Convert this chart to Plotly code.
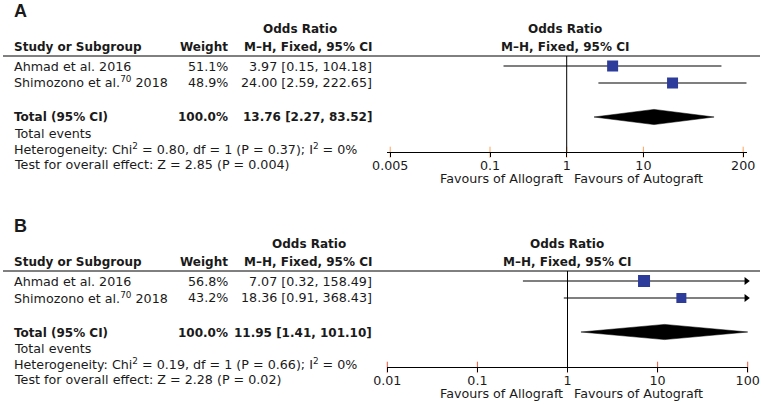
import plotly.graph_objects as go

# ---------------- data ----------------
studies = ["Ahmad et al. 2016", "Shimozono et al.<sup>70</sup> 2018"]

A_weight = [51.1, 48.9]
A_or = [3.97, 24.00]
A_lo = [0.15, 2.59]
A_hi = [104.18, 222.65]
A_total = [13.76, 2.27, 83.52]
A_het = "Heterogeneity: Chi<sup>2</sup> = 0.80, df = 1 (P = 0.37); I<sup>2</sup> = 0%"
A_test = "Test for overall effect: Z = 2.85 (P = 0.004)"
A_ticks = [0.005, 0.1, 1, 10, 200]
A_ticklabels = ["0.005", "0.1", "1", "10", "200"]

B_weight = [56.8, 43.2]
B_or = [7.07, 18.36]
B_lo = [0.32, 0.91]
B_hi = [158.49, 368.43]
B_total = [11.95, 1.41, 101.10]
B_het = "Heterogeneity: Chi<sup>2</sup> = 0.19, df = 1 (P = 0.66); I<sup>2</sup> = 0%"
B_test = "Test for overall effect: Z = 2.28 (P = 0.02)"
B_ticks = [0.01, 0.1, 1, 10, 100]
B_ticklabels = ["0.01", "0.1", "1", "10", "100"]

rows = [1, 2]
total_row = 4

# ---------------- layout helpers ----------------
W, H = 762, 404
def X(px): return px / W
def Y(py): return 1 - py / H

FONT = "DejaVu Sans"
TXT = "#1a1a1a"
BLUE = "#2d3c9b"
FS = 12.7
FSB = 12.0

fig = go.Figure()
annotations = []
shapes = []

def text(x, y, s, anchor="left", bold=False, size=None, family=FONT):
    if size is None:
        size = FSB if bold else FS
    if bold:
        s = "<b>" + s + "</b>"
    annotations.append(dict(x=X(x), y=Y(y), xref="paper", yref="paper", text=s,
                            showarrow=False, xanchor=anchor, yanchor="middle",
                            borderpad=0,
                            font=dict(family=family, size=size, color=TXT)))

def fmt_ci(o, l, h):
    return f"{o:.2f} [{l:.2f}, {h:.2f}]"

panels = [
    dict(letter="A", dy=0, weight=A_weight, orr=A_or, lo=A_lo, hi=A_hi, total=A_total,
         het=A_het, test=A_test, ticks=A_ticks, ticklabels=A_ticklabels,
         xdom=(386.7, 746.7), xrange=(-2.347, 2.347), or_hdr_x=300, right_hdr_x=565,
         xa="x", ya="y"),
    dict(letter="B", dy=215, weight=B_weight, orr=B_or, lo=B_lo, hi=B_hi, total=B_total,
         het=B_het, test=B_test, ticks=B_ticks, ticklabels=B_ticklabels,
         xdom=(387.3, 747.7), xrange=(-2.0, 2.0), or_hdr_x=309, right_hdr_x=566.7,
         xa="x2", ya="y2"),
]

layout_axes = {}
for i, p in enumerate(panels):
    dy = p["dy"]
    # ---- left table ----
    text(13, 11 + dy, p["letter"], bold=True, size=18, family="Liberation Sans")
    text(p["or_hdr_x"], 29 + dy, "Odds Ratio", anchor="center", bold=True)
    text(13, 46.5 + dy, "Study or Subgroup", bold=True)
    text(229, 46.5 + dy, "Weight", anchor="right", bold=True)
    text(373, 46.5 + dy, "M–H, Fixed, 95% CI", anchor="right", bold=True)
    row_y = [66 + dy, 82.5 + dy]
    for s, w, o, l, h, yy in zip(studies, p["weight"], p["orr"], p["lo"], p["hi"], row_y):
        text(13, yy, s)
        text(229, yy, f"{w:.1f}%", anchor="right")
        text(373, yy, fmt_ci(o, l, h), anchor="right")
    text(13, 117.5 + dy, "Total (95% CI)", bold=True)
    text(229, 117.5 + dy, f"{sum(p['weight']):.1f}%", anchor="right", bold=True)
    text(373, 117.5 + dy, fmt_ci(*p["total"]), anchor="right", bold=True)
    text(13, 133 + dy, "Total events")
    text(13, 148.5 + dy, p["het"])
    text(13, 164 + dy, p["test"])

    # ---- right headers ----
    text(p["right_hdr_x"], 29 + dy, "Odds Ratio", anchor="center", bold=True)
    text(p["right_hdr_x"], 46.5 + dy, "M–H, Fixed, 95% CI", anchor="center", bold=True)
    text(564, 178.5 + dy, "Favours of Allograft", anchor="right")
    text(573, 178.5 + dy, "Favours of Autograft", anchor="left")

    # header rule
    shapes.append(dict(type="line", xref="paper", yref="paper", x0=X(3), x1=X(760),
                       y0=Y(56 + dy), y1=Y(56 + dy), line=dict(color="black", width=1)))

    # ---- forest plot ----
    top_px, bot_px = 56 + dy, 152.3 + dy
    row_px = 17.0
    ytop = 1 - (66 + dy - top_px) / row_px
    ybot = ytop + (bot_px - top_px) / row_px
    xa, ya = p["xa"], p["ya"]
    xmax = 10 ** p["xrange"][1]

    # CI lines
    for r, l, h in zip(rows, p["lo"], p["hi"]):
        hh = min(h, xmax)
        fig.add_trace(go.Scatter(x=[l, hh], y=[r, r], mode="lines", xaxis=xa, yaxis=ya,
                                 line=dict(color="black", width=1.1), hoverinfo="skip",
                                 showlegend=False))
        if h > xmax * 1.05:
            fig.add_trace(go.Scatter(x=[xmax * 0.965], y=[r], mode="markers", xaxis=xa, yaxis=ya,
                                     marker=dict(symbol="triangle-right", size=7, color="black"),
                                     cliponaxis=False, hoverinfo="skip", showlegend=False))
    # squares
    fig.add_trace(go.Scatter(x=p["orr"], y=rows, mode="markers", xaxis=xa, yaxis=ya,
                             marker=dict(symbol="square", color=BLUE, opacity=1,
                                         size=[round(0.15 * w + 3.5) for w in p["weight"]],
                                         line=dict(width=0)),
                             hoverinfo="skip", showlegend=False))
    # diamond
    o, l, h = p["total"]
    hd = 7.6 / row_px
    fig.add_trace(go.Scatter(x=[l, o, h, o, l], y=[total_row, total_row - hd, total_row,
                                                   total_row + hd, total_row],
                             mode="lines", fill="toself", fillcolor="black",
                             line=dict(color="black", width=0.5), xaxis=xa, yaxis=ya,
                             hoverinfo="skip", showlegend=False))
    # upper halves of the crossing tick marks
    fig.add_trace(go.Scatter(x=p["ticks"], y=[ybot] * len(p["ticks"]), mode="markers",
                             xaxis=xa, yaxis=ya, cliponaxis=False,
                             marker=dict(symbol="line-ns-open", size=8,
                                         line=dict(color="black", width=1)),
                             hoverinfo="skip", showlegend=False))
    # vertical line of no effect
    shapes.append(dict(type="line", xref=xa, yref=f"{ya} domain", x0=1, x1=1, y0=0, y1=1,
                       line=dict(color="black", width=1)))

    xkey = "xaxis" if xa == "x" else "xaxis2"
    ykey = "yaxis" if ya == "y" else "yaxis2"
    dom = [X(p["xdom"][0]), X(p["xdom"][1])]
    layout_axes[xkey] = dict(type="log", domain=dom, range=list(p["xrange"]), anchor=ya,
                             showgrid=False, zeroline=False, showline=True, linecolor="black",
                             linewidth=1, ticks="outside", ticklen=4, tickcolor="black",
                             tickwidth=1, tickvals=p["ticks"], ticktext=p["ticklabels"],
                             ticklabelstandoff=-3,
                             tickfont=dict(family=FONT, size=FS, color=TXT), fixedrange=True,
                             automargin=False)
    layout_axes[ykey] = dict(domain=[Y(bot_px), Y(top_px)], range=[ybot, ytop], visible=False,
                             anchor=xa, fixedrange=True, automargin=False)

fig.update_layout(
    width=W, height=H, margin=dict(l=0, r=0, t=0, b=0, pad=0, autoexpand=False),
    paper_bgcolor="white", plot_bgcolor="rgba(0,0,0,0)",
    annotations=annotations, shapes=shapes, showlegend=False,
    **layout_axes,
)

fig.write_html("out.html", config={"displayModeBar": False, "staticPlot": True},
               post_script="document.body.style.margin='0';document.body.style.overflow='hidden';")
